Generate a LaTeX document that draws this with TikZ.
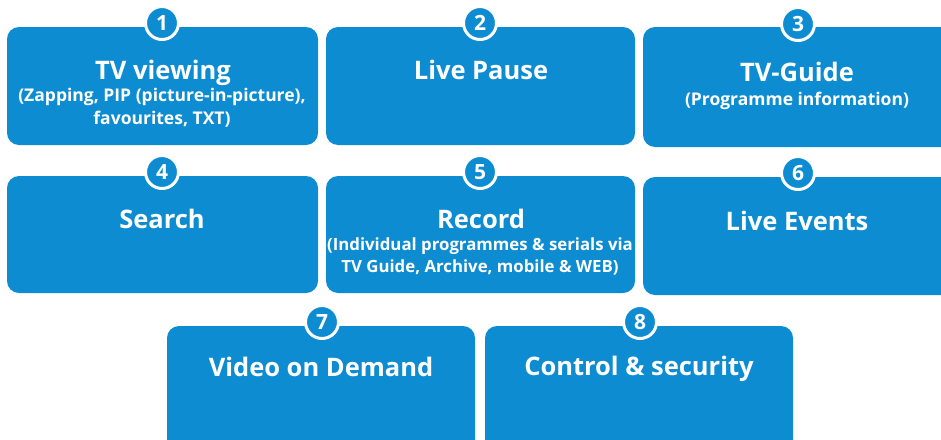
\documentclass[tikz,border=0pt]{standalone}
\usepackage{fontspec}
\setmainfont{Open Sans}
\definecolor{tileblue}{RGB}{14,140,210}
\begin{document}
\begin{tikzpicture}[x=1pt,y=-1pt,
  tile/.style={fill=tileblue, draw=none, rounded corners=12pt},
  badge/.style={circle, fill=tileblue, draw=white, line width=3pt, minimum size=33pt, inner sep=0pt, text=white, font=\bfseries\fontsize{21}{21}\selectfont},
  ttl/.style={anchor=base, text=white, inner sep=0pt, font=\bfseries\fontsize{25.5}{25.5}\selectfont},
  sub/.style={anchor=base, text=white, inner sep=0pt, font=\bfseries\fontsize{17.5}{17.5}\selectfont},
  subn/.style={sub, font=\bfseries\fontsize{16.8}{16.8}\selectfont}]
\useasboundingbox (0,0) rectangle (941,439);
\clip (0,0) rectangle (941,439);
% row 1
\fill[tile] (7,27) rectangle (318,145);
\fill[tile] (326,27) rectangle (635,145);
\fill[tile] (643,27) rectangle (960,147);
% row 2
\fill[tile] (7,176) rectangle (318,293);
\fill[tile] (326,176) rectangle (635,293);
\fill[tile] (643,177) rectangle (960,295);
% row 3
\fill[tile] (167,326) rectangle (475,460);
\fill[tile] (485,326) rectangle (793,460);
% badges
\node[badge] (n1) at (162,23) {1};
\node[badge] (n2) at (480,23) {2};
\node[badge] (n3) at (798,24) {3};
\node[badge] (n4) at (162,172) {4};
\node[badge] (n5) at (480,172) {5};
\node[badge] (n6) at (798,173) {6};
\node[badge] (n7) at (322,322) {7};
\node[badge] (n8) at (640,322) {8};
% texts
\node[ttl] (t1) at (163,79) {TV viewing};
\node[sub] (s1a) at (162,101) {(Zapping, PIP (picture-in-picture),};
\node[sub] (s1b) at (162,124) {favourites, TXT)};
\node[ttl] (t2) at (481,79) {Live Pause};
\node[ttl] (t3) at (797,81) {TV-Guide};
\node[sub] (s3) at (797,105) {(Programme information)};
\node[ttl] (t4) at (162,228) {Search};
\node[ttl] (t5) at (481,228) {Record};
\node[subn] (s5a) at (480,250) {(Individual programmes \& serials via};
\node[subn] (s5b) at (480,272) {TV Guide, Archive, mobile \& WEB)};
\node[ttl] (t6) at (797,230) {Live Events};
\node[ttl] (t7) at (321,376) {Video on Demand};
\node[ttl] (t8) at (639,375) {Control \& security};
\end{tikzpicture}
\end{document}
